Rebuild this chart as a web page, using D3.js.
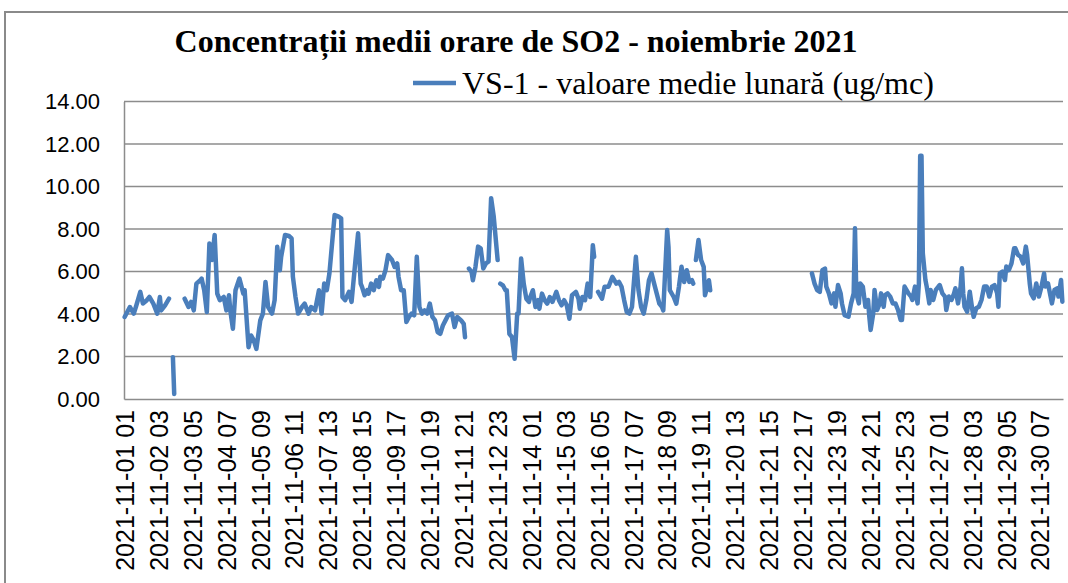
<!DOCTYPE html>
<html>
<head>
<meta charset="utf-8">
<script src="https://cdn.jsdelivr.net/npm/d3@7"></script>
<style>
  body { margin: 0; background: #fff; }
  svg { display: block; }
</style>
</head>
<body>
<div id="chart"></div>
<script>
// --- data (hour index from 2021-11-01 01, value in ug/mc, null = missing)
const chartTitle = "Concentrații medii orare de SO2 - noiembrie 2021";
const seriesName = "VS-1 - valoare medie lunară (ug/mc)";

const yTicks = [0, 2, 4, 6, 8, 10, 12, 14];

const tickLabels = [
  "2021-11-01 01", "2021-11-02 03", "2021-11-03 05", "2021-11-04 07", "2021-11-05 09",
  "2021-11-06 11", "2021-11-07 13", "2021-11-08 15", "2021-11-09 17", "2021-11-10 19",
  "2021-11-11 21", "2021-11-12 23", "2021-11-14 01", "2021-11-15 03", "2021-11-16 05",
  "2021-11-17 07", "2021-11-18 09", "2021-11-19 11", "2021-11-20 13", "2021-11-21 15",
  "2021-11-22 17", "2021-11-23 19", "2021-11-24 21", "2021-11-25 23", "2021-11-27 01",
  "2021-11-28 03", "2021-11-29 05", "2021-11-30 07"
];

const hours = [
  0,4,7,9,12,14,17,19,22,25,27,28,31,34,35,37,38,40,
  46,49,51,53,55,58,59,61,63,65,67,69,71,73,76,78,80,81,83,85,
  88,91,92,95,97,99,101,104,106,108,110,113,115,117,119,120,123,126,128,129,
  131,133,136,138,141,143,146,149,151,153,155,157,161,164,166,167,169,172,174,177,
  179,181,182,184,186,187,189,191,193,195,196,198,200,202,205,207,209,210,212,214,
  216,218,220,222,224,226,228,230,232,234,236,238,240,242,244,246,248,251,253,255,
  258,260,261,262,264,266,267,269,271,273,275,277,279,281,283,286,287,
  288,290,292,293,295,297,299,301,302,304,306,308,310,311,313,315,317,318,320,322,
  324,326,328,330,331,333,335,337,339,341,343,346,348,349,351,353,355,357,359,360,
  361,363,366,368,371,374,377,379,381,383,385,387,389,392,394,396,398,400,402,404,
  406,408,410,412,413,416,417,418,421,423,425,427,429,431,433,435,436,437,
  438,440,442,444,445,448,449,450,
  527,529,531,533,535,537,538,540,542,544,545,547,549,550,552,555,557,559,560,561,
  563,564,566,568,570,571,572,574,575,577,579,580,582,583,585,587,589,591,593,595,
  596,598,601,603,604,606,608,609,610,611,612,614,615,617,618,620,622,624,625,627,
  629,630,632,634,636,637,639,641,642,643,644,646,648,650,651,653,655,657,659,661,
  663,665,667,669,670,671,673,675,676,678,680,682,683,685,687,689,691,692,694,695,
  697,699,701,703,705,706,708,709,711,713,715,716,718,719
];

const so2 = [
  3.86,4.33,4.02,4.41,5.04,4.49,4.65,4.80,4.49,4.02,4.80,4.17,4.41,4.72,null,1.97,0.24,null,
  4.72,4.33,4.57,4.17,5.43,5.59,5.67,5.12,4.09,7.32,6.54,7.72,4.96,4.65,4.80,4.17,4.88,4.17,3.31,5.12,
  5.67,4.96,5.12,2.44,2.99,2.76,2.36,3.70,4.02,5.51,4.33,4.02,4.65,7.17,6.06,6.69,7.72,7.67,7.56,5.75,
  4.80,4.02,4.33,4.49,4.02,4.33,4.17,5.12,4.02,5.43,5.12,5.91,8.66,8.58,8.50,4.80,4.65,5.04,4.57,6.54,
  7.80,5.43,5.28,4.88,5.12,4.96,5.43,5.12,5.59,5.28,5.75,5.67,6.06,6.77,6.54,6.22,6.38,5.75,5.12,5.12,
  3.62,3.86,4.02,3.94,6.69,4.33,4.02,4.17,4.02,4.49,3.86,3.70,3.15,3.07,3.46,3.70,3.94,4.02,3.39,3.86,
  3.70,3.54,2.91,null,6.14,5.98,5.59,6.22,7.17,7.09,6.14,6.38,6.46,9.45,8.58,6.54,null,
  5.43,5.35,5.12,5.12,3.07,2.91,1.89,4.02,4.02,6.61,5.43,4.72,4.57,4.80,5.12,4.33,4.65,4.25,4.96,4.65,
  4.49,4.80,4.57,4.88,5.04,4.65,4.41,4.65,4.41,3.78,4.88,5.04,4.72,4.25,4.80,4.65,5.43,4.80,7.24,6.69,
  null,5.04,4.72,5.28,5.28,5.75,5.43,5.51,5.28,4.65,4.09,4.02,4.33,6.69,5.12,4.33,4.02,4.65,5.59,5.91,
  5.43,4.96,4.49,4.33,4.17,7.95,7.17,5.12,4.80,4.49,5.28,6.22,5.51,6.06,5.51,5.59,5.43,null,
  6.54,7.48,6.54,6.22,4.88,5.59,5.12,null,
  5.91,5.43,5.12,5.04,6.06,6.14,5.29,4.97,4.50,4.97,4.34,5.36,4.97,4.50,3.95,3.87,4.50,4.97,8.03,4.97,
  4.50,5.44,5.29,4.34,4.66,3.87,3.25,4.03,5.13,4.19,4.50,4.97,4.34,4.89,4.97,4.82,4.50,4.50,4.19,3.72,
  3.72,5.29,4.97,4.82,4.66,5.29,4.50,5.44,11.45,11.45,6.86,5.60,5.29,4.50,5.13,4.66,5.13,5.29,5.36,4.97,
  4.82,4.19,4.82,4.66,4.97,5.21,4.50,5.29,6.15,4.97,4.34,4.11,5.05,4.19,3.87,4.27,4.34,4.66,5.29,5.29,
  4.82,5.29,5.36,4.97,4.34,5.91,5.99,5.60,6.23,6.07,6.38,7.09,7.09,6.78,6.70,6.38,7.17,6.78,5.44,4.97,
  4.74,5.44,4.82,5.29,5.91,5.29,5.44,5.13,4.50,5.13,5.21,4.82,5.60,4.58
];

// --- layout
const W = 1068, H = 583;
const plot = { left: 124, right: 1063, top: 101.5, bottom: 399 };
const lineColor = "#4a7ebb";
const gridColor = "#8c8c8c";

// hour index of a "YYYY-MM-DD HH" label (first category = 11-01 01)
function labelHour(s) {
  let day = +s.slice(8, 10);
  let hr = +s.slice(11, 13);
  return (day - 1) * 24 + hr - 1;
}

let svg = d3.select("#chart").append("svg")
  .attr("width", W)
  .attr("height", H);

// outer chart border
svg.append("rect")
  .attr("x", 5).attr("y", 12)
  .attr("width", W + 20).attr("height", H + 20)
  .attr("fill", "#fff")
  .attr("stroke", "#8a8a8a")
  .attr("stroke-width", 2);

let x = d3.scaleLinear()
  .domain([-0.5, 719.5])
  .range([plot.left, plot.right]);

let y = d3.scaleLinear()
  .domain([0, 14])
  .range([plot.bottom, plot.top]);

// gridlines
svg.append("g")
  .selectAll("line")
  .data(yTicks.filter(d => d > 0))
  .enter()
  .append("line")
    .attr("x1", plot.left).attr("x2", plot.right)
    .attr("y1", d => y(d)).attr("y2", d => y(d))
    .attr("stroke", gridColor)
    .attr("stroke-width", 1.5);

// y axis
let yAxis = svg.append("g")
  .attr("transform", "translate(" + plot.left + ",0)")
  .call(d3.axisLeft(y).tickValues(yTicks).tickFormat(d3.format(".2f")).tickSize(0).tickPadding(24));
yAxis.select(".domain").attr("stroke", gridColor).attr("stroke-width", 1.5);
yAxis.selectAll("text")
  .attr("font-family", "'Liberation Sans', Arial, sans-serif")
  .attr("font-size", 22)
  .attr("fill", "#000");

// x axis
let xAxis = svg.append("g")
  .attr("transform", "translate(0," + plot.bottom + ")")
  .call(d3.axisBottom(x)
    .tickValues(tickLabels.map(labelHour))
    .tickFormat((d, i) => tickLabels[i])
    .tickSize(0));
xAxis.select(".domain").attr("stroke", gridColor).attr("stroke-width", 1.5);
xAxis.selectAll("text")
  .attr("font-family", "'Liberation Sans', Arial, sans-serif")
  .attr("font-size", 25)
  .attr("fill", "#000")
  .attr("text-anchor", "end")
  .attr("dy", "0.35em")
  .attr("transform", "translate(0,11) rotate(-90)")
  .attr("x", 0).attr("y", 0);

// series line
let points = hours.map((h, i) => ({ h: h, v: so2[i] }));
let line = d3.line()
  .defined(d => d.v != null)
  .x(d => x(d.h))
  .y(d => y(d.v));

svg.append("path")
  .datum(points)
  .attr("d", line)
  .attr("fill", "none")
  .attr("stroke", lineColor)
  .attr("stroke-width", 4.5)
  .attr("stroke-linejoin", "round")
  .attr("stroke-linecap", "round");

// title
svg.append("text")
  .attr("x", 516).attr("y", 52)
  .attr("text-anchor", "middle")
  .attr("font-family", "'Liberation Serif', 'Times New Roman', serif")
  .attr("font-weight", "bold")
  .attr("font-size", 32)
  .text(chartTitle);

// legend
svg.append("line")
  .attr("x1", 413).attr("x2", 456)
  .attr("y1", 83).attr("y2", 83)
  .attr("stroke", lineColor)
  .attr("stroke-width", 4.5);
svg.append("text")
  .attr("x", 462).attr("y", 94)
  .attr("font-family", "'Liberation Serif', 'Times New Roman', serif")
  .attr("font-size", 32)
  .text(seriesName);
</script>
</body>
</html>
